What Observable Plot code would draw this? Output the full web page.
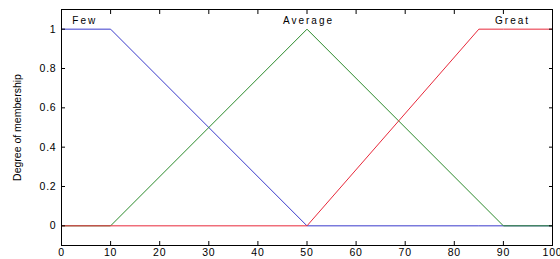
<!DOCTYPE html>
<html><head><meta charset="utf-8">
<script src="https://cdn.jsdelivr.net/npm/d3@7"></script>
<script src="https://cdn.jsdelivr.net/npm/@observablehq/plot@0.6"></script>
<style>
html,body{margin:0;padding:0;background:#fff;}
svg{display:block;}
#chart g[aria-label="x-axis tick label"] text,
#chart g[aria-label="y-axis tick label"] text{letter-spacing:0.8px;}
</style>
</head><body>
<div id="chart"></div>
<script>
const xs = [0, 10, 50, 85, 90, 100];
const few = [1, 1, 0, 0, 0, 0];
const great = [0, 0, 0, 1, 1, 1];
const avgXs = [0, 10, 50, 90, 100];
const average = [0, 0, 1, 0, 0];
const seriesNames = ["Few", "Average", "Great"];
const seriesColors = ["#3a3acb", "#2a8a2a", "#e8283a"];
const labelX = [2.2, 50.3, 88.3];
const labelAnchor = ["start", "middle", "start"];
const xTicks = [0, 10, 20, 30, 40, 50, 60, 70, 80, 90, 100];
const yTicks = [0, 0.2, 0.4, 0.6, 0.8, 1];
const yTitle = "Degree of membership";

const series = [
  xs.map((x,i)=>({x, y: few[i], s: "Few"})),
  avgXs.map((x,i)=>({x, y: average[i], s: "Average"})),
  xs.map((x,i)=>({x, y: great[i], s: "Great"}))
];
const data = series.flat();
const labels = seriesNames.map((s,i)=>({s, x: labelX[i], y: 1.045, a: labelAnchor[i]}));

const font = "Liberation Sans, Arial, sans-serif";
const chart = Plot.plot({
  width: 560, height: 259,
  marginLeft: 61, marginRight: 8, marginTop: 9, marginBottom: 14,
  style: {fontFamily: font, fontSize: "10.5px", background: "#fff", color: "#000"},
  x: {domain: [0, 100]},
  y: {domain: [-0.1, 1.1]},
  color: {domain: seriesNames, range: seriesColors},
  marks: [
    Plot.line(data, {x: "x", y: "y", z: "s", stroke: "s", strokeWidth: 1}),
    Plot.frame({stroke: "#000", strokeWidth: 1}),
    Plot.axisX(xTicks, {anchor: "bottom", tickSize: -4, tickPadding: 7, tickFormat: d => d, label: null, fontSize: 10.5}),
    Plot.axisX(xTicks, {anchor: "top", tickSize: -4, tickFormat: () => "", label: null}),
    Plot.axisY(yTicks, {anchor: "left", tickSize: -4, tickPadding: 9, tickFormat: d => d, label: null, fontSize: 10.5}),
    Plot.axisY(yTicks, {anchor: "right", tickSize: -4, tickFormat: () => "", label: null}),
    Plot.text(labels.filter(d => d.a === "start"), {x: "x", y: "y", text: "s", textAnchor: "start", fill: "#000", fontSize: 10}),
    Plot.text(labels.filter(d => d.a === "middle"), {x: "x", y: "y", text: "s", textAnchor: "middle", fill: "#000", fontSize: 10}),
    Plot.text([yTitle], {frameAnchor: "left", textAnchor: "middle", text: d => d, rotate: -90, dx: -44, fontSize: 10.5, fontFamily: "Liberation Sans Narrow, Arial Narrow, sans-serif", fill: "#000"})
  ]
});
const groups = d3.select(chart).selectAll('g[aria-label="text"]').nodes();
groups.slice(0, 2).forEach(g => d3.select(g).selectAll("text").style("letter-spacing", "2px"));
document.getElementById("chart").append(chart);
</script>
</body></html>
